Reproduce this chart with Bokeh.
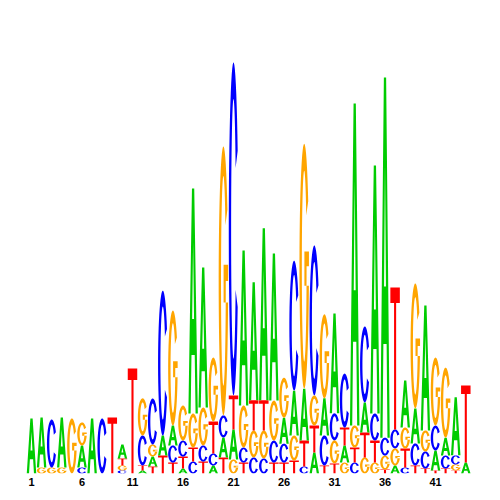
import numpy as np
from bokeh.plotting import figure
from bokeh.models import FixedTicker
from bokeh.embed import file_html
from bokeh.resources import INLINE

# ---- data: information content (bits) per base at each position ----
positions = list(range(1, 45))
A = [0.267, 0.243, 0.0, 0.243, 0.0, 0.107, 0.267, 0.0, 0.0, 0.068,
     0.0, 0.015, 0.049, 0.097, 0.097, 0.024, 1.092, 0.680, 0.039, 0.097,
     0.146, 0.752, 0.573, 0.835, 0.714, 0.126, 0.218, 0.252, 0.102, 0.180,
     0.485, 0.083, 1.563, 0.146, 1.204, 1.748, 0.039, 0.228, 0.170, 0.607,
     0.097, 0.087, 0.282, 0.053]
C = [0.0, 0.0, 0.233, 0.0, 0.0, 0.029, 0.0, 0.267, 0.0, 0.015,
     0.0, 0.146, 0.223, 0.704, 0.083, 0.078, 0.058, 0.078, 0.058, 0.107,
     1.617, 0.073, 0.078, 0.073, 0.107, 0.092, 0.631, 0.034, 0.728, 0.146,
     0.131, 0.262, 0.053, 0.369, 0.131, 0.087, 0.092, 0.029, 0.107, 0.083,
     0.121, 0.063, 0.044, 0.0]
G = [0.0, 0.029, 0.029, 0.029, 0.267, 0.112, 0.0, 0.0, 0.0, 0.024,
     0.0, 0.180, 0.058, 0.0, 0.558, 0.170, 0.165, 0.184, 0.311, 1.306,
     0.068, 0.204, 0.131, 0.136, 0.194, 0.194, 0.121, 1.189, 0.146, 0.408,
     0.112, 0.053, 0.107, 0.078, 0.053, 0.068, 0.083, 0.102, 0.607, 0.102,
     0.330, 0.340, 0.029, 0.0]
T = [0.0, 0.0, 0.0, 0.0, 0.0, 0.0, 0.0, 0.0, 0.272, 0.034,
     0.510, 0.024, 0.034, 0.087, 0.053, 0.058, 0.068, 0.058, 0.155, 0.078,
     0.165, 0.053, 0.146, 0.146, 0.053, 0.053, 0.063, 0.126, 0.131, 0.039,
     0.049, 0.087, 0.073, 0.121, 0.107, 0.019, 0.689, 0.092, 0.039, 0.024,
     0.015, 0.024, 0.015, 0.374]
tick_positions = [1, 6, 11, 16, 21, 26, 31, 36, 41]

colors = {"A": "#00CC00", "C": "#0000FF", "G": "#FFA500", "T": "#FF0000"}
heights = {"A": A, "C": C, "G": G, "T": T}

# ---- letter templates in a unit box ----
def arc_ring(a0, a1, rix, riy, n=48):
    t = np.radians(np.linspace(a0, a1, n))
    ox = 0.5 + 0.5 * np.cos(t)
    oy = 0.5 + 0.5 * np.sin(t)
    ix = 0.5 + rix * np.cos(t[::-1])
    iy = 0.5 + riy * np.sin(t[::-1])
    return list(zip(np.concatenate([ox, ix]), np.concatenate([oy, iy])))

TEMPLATES = {
    "A": [[[(0, 0), (0.38, 1), (0.62, 1), (1, 0), (0.76, 0), (0.67, 0.26),
            (0.33, 0.26), (0.24, 0)],
           [(0.40, 0.42), (0.60, 0.42), (0.5, 0.76)]]],
    "C": [[arc_ring(28, 332, 0.25, 0.39)]],
    "G": [[arc_ring(32, 360, 0.25, 0.39)],
          [[(0.52, 0.42), (1.0, 0.42), (1.0, 0.56), (0.52, 0.56)]]],
    "T": [[[(0, 1), (1, 1), (1, 0.89), (0.61, 0.89), (0.61, 0),
            (0.39, 0), (0.39, 0.89), (0, 0.89)]]],
}

LW = 0.94  # letter width in position units

xs_all, ys_all, col_all = [], [], []
for i, pos in enumerate(positions):
    stack = sorted([(heights[b][i], b) for b in "ACGT" if heights[b][i] > 0])
    y0 = 0.0
    for h, b in stack:
        polys_x, polys_y = [], []
        for poly in TEMPLATES[b]:
            rings_x, rings_y = [], []
            for ring in poly:
                rings_x.append([pos - LW / 2 + px * LW for px, py in ring])
                rings_y.append([y0 + py * h for px, py in ring])
            polys_x.append(rings_x)
            polys_y.append(rings_y)
        xs_all.append(polys_x)
        ys_all.append(polys_y)
        col_all.append(colors[b])
        y0 += h

# ---- figure ----
px_per_pos = 10.1
frame_w, frame_h = 492, 473
x_start = 1 - 31 / px_per_pos
x_end = x_start + frame_w / px_per_pos
bits_top = frame_h / 206

p = figure(frame_width=frame_w, frame_height=frame_h, x_range=(x_start, x_end),
           y_range=(0, bits_top), output_backend="svg", toolbar_location=None,
           y_axis_location=None, min_border=0)
p.multi_polygons(xs=xs_all, ys=ys_all, fill_color=col_all, line_color=None)

p.xgrid.visible = False
p.ygrid.visible = False
p.outline_line_color = None
ax = p.xaxis[0]
ax.ticker = FixedTicker(ticks=tick_positions)
ax.axis_line_color = None
ax.major_tick_line_color = None
ax.minor_tick_line_color = None
ax.major_tick_out = 0
ax.major_tick_in = 0
ax.major_label_standoff = 4
ax.major_label_text_font = "Liberation Sans"
ax.major_label_text_font_style = "bold"
ax.major_label_text_font_size = "11px"
ax.major_label_text_color = "black"

open("out.html", "w").write(file_html(p, INLINE))
